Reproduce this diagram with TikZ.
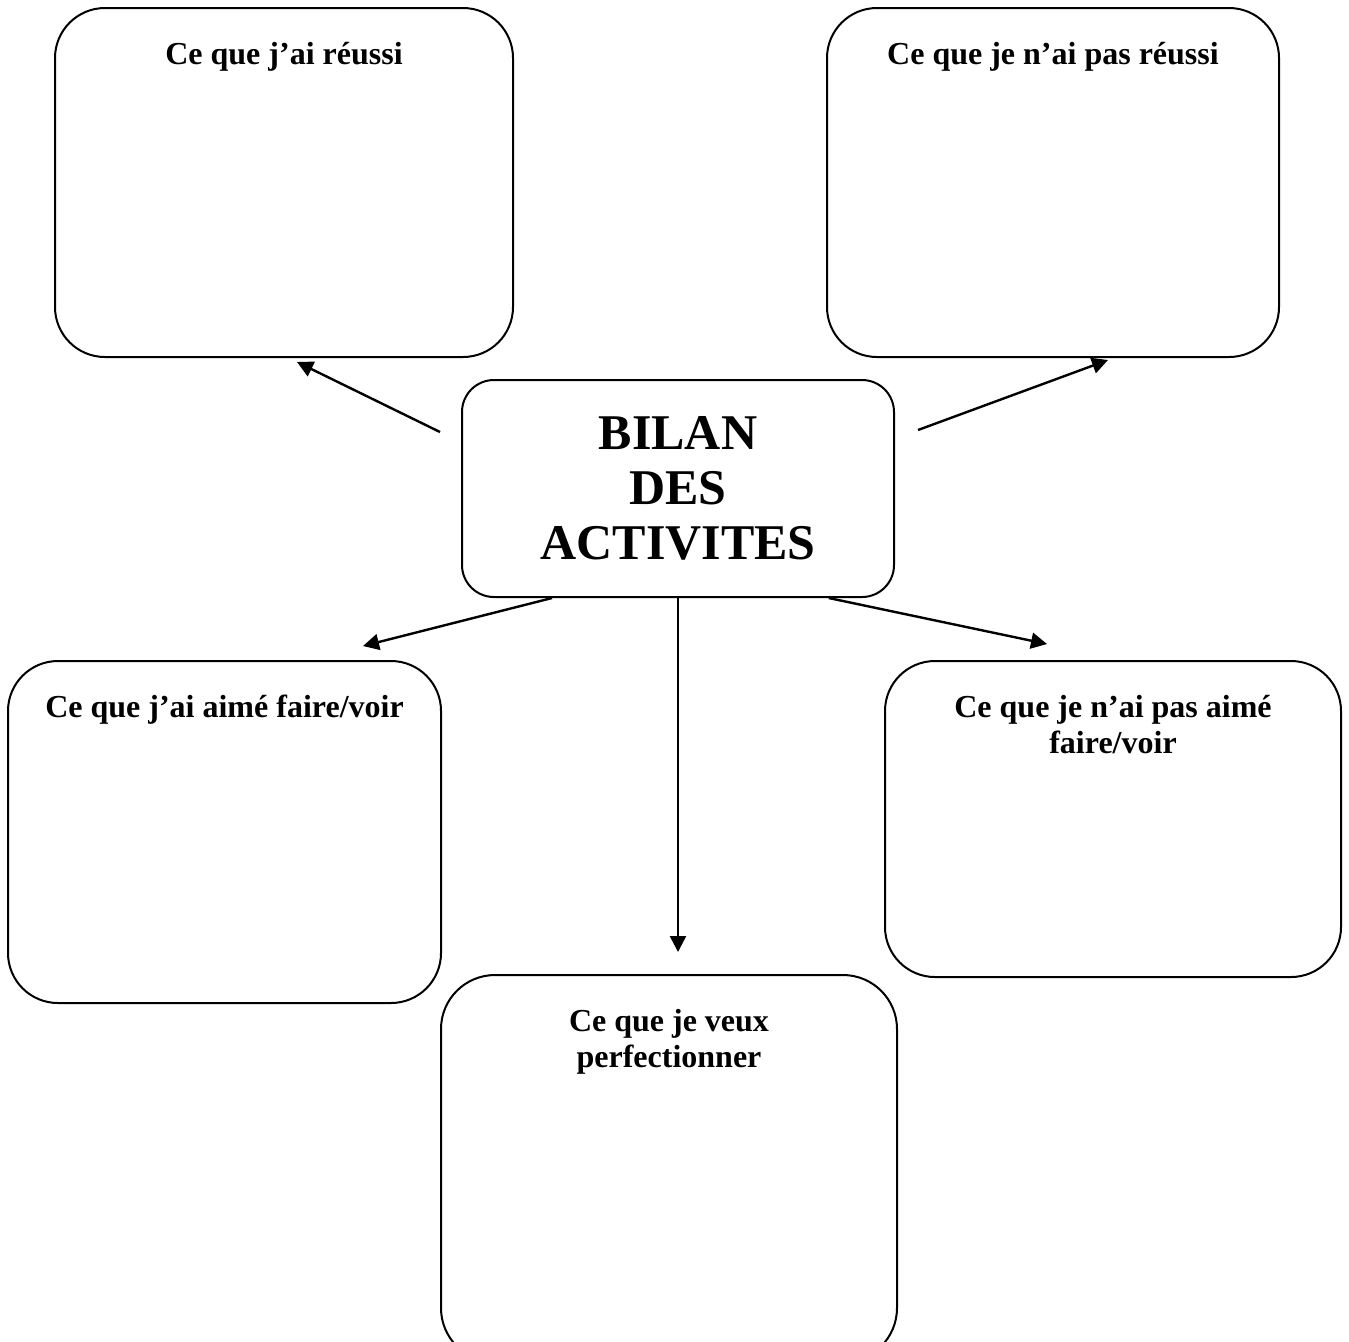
\documentclass[tikz,border=0pt]{standalone}
\usepackage{fontspec}
\setmainfont{Liberation Serif}
\usetikzlibrary{arrows.meta, positioning}
\newcommand{\titlefont}{\fontsize{16}{18}\selectfont\bfseries}
\newcommand{\bilanfont}{\fontsize{25}{27.5}\selectfont\bfseries}
\tikzset{
  bilanbox/.style={draw, line width=1pt, rounded corners=25pt, inner sep=0pt},
  boxtitle/.style={font=\titlefont, align=center, anchor=north, inner sep=0pt, yshift=-17.5pt},
  fleche/.style={-{Triangle[length=8pt, width=8pt]}, line width=1.2pt}
}

\begin{document}
\begin{tikzpicture}[x=0.5pt, y=-0.5pt]
\useasboundingbox (0,0) rectangle (1349,1341);
\node[bilanbox, rounded corners=16pt, minimum width=216pt, minimum height=108.5pt, font=\bilanfont, align=center] (bilan) at (678,488.5) {BILAN\\DES\\ACTIVITES};
\node[bilanbox, minimum width=229pt, minimum height=174.5pt, label={[boxtitle]north:Ce que j’ai réussi}] (reussi) at (284,182.5) {};
\node[bilanbox, minimum width=226pt, minimum height=174.5pt, label={[boxtitle]north:Ce que je n’ai pas réussi}] (pasreussi) at (1053,182.5) {};
\node[bilanbox, minimum width=216.5pt, minimum height=171pt, label={[boxtitle]north:Ce que j’ai aimé faire/voir}] (aime) at (224.5,832) {};
\node[bilanbox, minimum width=228pt, minimum height=158pt, label={[boxtitle]north:Ce que je n’ai pas aimé\\faire/voir}] (pasaime) at (1113,819) {};
\node[bilanbox, rounded corners=27pt, minimum width=228pt, minimum height=193.5pt, label={[boxtitle]north:Ce que je veux\\perfectionner}] (perfect) at (669,1168.5) {};
% free ends of the arrows
\coordinate (dep1) at (440,432);
\coordinate (dep2) at (918,430);
\coordinate (tip1) at (297,362);
\coordinate (tip2) at (1108,360);
\coordinate (tip3) at (363,646);
\coordinate (tip4) at (1047,644);
\coordinate (tip5) at (678,952);
\draw[fleche] (dep1) -- (tip1);
\draw[fleche] (dep2) -- (tip2);
\draw[fleche] (bilan.221.7) -- (tip3);
\draw[fleche] (bilan.324.2) -- (tip4);
\draw[fleche] (bilan.south) -- (tip5);
\end{tikzpicture}
\end{document}
